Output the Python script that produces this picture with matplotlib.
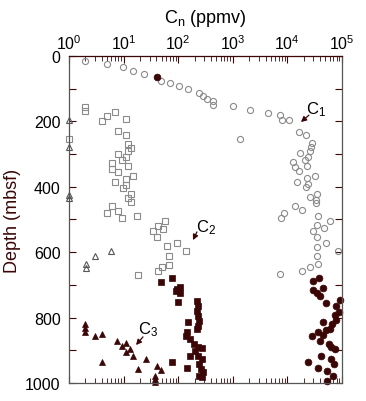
import matplotlib
matplotlib.use("Agg")
import matplotlib.pyplot as plt
from matplotlib.ticker import LogLocator, FixedLocator, NullFormatter, LogFormatterSciNotation

plt.rcParams['font.family'] = ['Liberation Sans', 'DejaVu Sans']
plt.rcParams['mathtext.fontset'] = 'custom'
plt.rcParams['mathtext.rm'] = 'Liberation Sans'
plt.rcParams['mathtext.it'] = 'Liberation Sans:italic'

# ---- data ----
c1_open_val = [1.96, 5.0, 9.8, 14.9, 23.6, 48, 71, 103, 151, 240, 285, 337, 434, 434, 1010, 2065,
               4415, 7325, 7950, 10700, 1350, 16300, 21900, 28200, 27000, 25900, 17000, 23800,
               21000, 12600, 13800, 16300, 22900, 15100, 22900, 31800, 23800, 21900, 25900, 34800,
               33800, 33800, 13800, 18600, 8650, 7600, 36300, 34800, 60300, 29500, 46800, 34800,
               51000, 34800, 84600, 34800, 36300, 25900, 18600, 7330]
c1_open_depth = [15, 24, 34, 46, 55, 76, 83, 92, 101, 113, 122, 131, 138, 150, 153, 165,
                 174, 180, 196, 196, 254, 232, 242, 266, 278, 290, 297, 309,
                 318, 324, 339, 352, 336, 385, 373, 367, 391, 401, 431, 422,
                 440, 450, 459, 471, 480, 495, 489, 517, 505, 535, 526, 553,
                 572, 584, 596, 612, 636, 645, 657, 667]

c1_fill_val = [41, 38000, 29500, 29500, 44700, 34800, 39600, 51000, 91900, 77600, 88100, 74500,
               77600, 65600, 44900, 50900, 60300, 36300, 28200, 44900, 39500, 57800, 63000,
               74500, 41200, 63000, 23800, 71300, 36300, 53100, 68400, 53100]
c1_fill_depth = [64, 679, 688, 716, 709, 725, 734, 755, 746, 765, 783, 792,
                 807, 820, 813, 838, 835, 844, 856, 853, 872, 881, 890,
                 896, 917, 927, 936, 942, 954, 963, 979, 994]

c2_open_val = [2.0, 2.0, 1.0, 4.0, 5.0, 7.0, 11.1, 7.9, 11.1, 12.0, 13.7, 12.0, 7.9, 11.1, 9.3,
               6.1, 6.1, 12.0, 7.9, 14.9, 11.1, 7.0, 11.1, 9.75, 13.7, 12.0, 13.7, 6.1, 5.0,
               7.9, 17.6, 9.3, 57, 34.5, 42.7, 52.7, 40.9, 62, 95, 139, 68, 68, 50, 42.7, 18.4]
c2_open_depth = [156, 168, 254, 199, 183, 171, 193, 229, 242, 269, 281, 290, 300, 309, 318,
                 327, 345, 336, 355, 367, 376, 385, 394, 404, 422, 434, 446, 459, 480,
                 474, 489, 495, 505, 535, 520, 529, 554, 581, 572, 596, 612, 639, 645, 657, 670]

c2_fill_val = [48, 77, 95, 108, 108, 93, 99, 221, 230, 221, 230, 240, 230, 221, 151, 139, 145,
               164, 195, 230, 273, 203, 164, 230, 273, 240, 262, 285, 240, 270, 77, 145]
c2_fill_depth = [691, 679, 713, 706, 725, 719, 752, 749, 765, 780, 795, 810, 826, 835, 813, 856, 844,
                 866, 881, 890, 893, 902, 917, 917, 927, 942, 957, 966, 979, 982, 936, 954]

c3_open_val = [1.0, 1.0, 1.0, 1.0, 3.0, 5.9, 2.05, 2.05]
c3_open_depth = [196, 278, 425, 434, 612, 596, 636, 648]

c3_fill_val = [2.0, 2.0, 2.0, 3.0, 4.0, 4.0, 7.6, 9.3, 11.1, 13.1, 11.1, 14.9, 18.4, 25.7,
               40.9, 48, 37.6, 37.6, 37.6]
c3_fill_depth = [820, 832, 844, 856, 850, 936, 872, 887, 878, 896, 905, 917, 957, 927,
                 948, 960, 979, 988, 997]

# annotation labels: (label, text position, arrow tail, arrow head)
ann_labels = ['C$_1$', 'C$_2$', 'C$_3$']
ann_text = [(33400, 160), (330, 521), (28, 833)]
ann_tail = [(24900, 181), (221, 538), (22.7, 859)]
ann_head = [(17800, 202), (187, 563), (16.9, 884)]

dark = '#3a0606'
grey = '#8a8a8a'

fig = plt.figure(figsize=(3.66, 4.02), dpi=100)
ax = fig.add_axes([0.1885, 0.0448, 0.7455, 0.8134])

ax.plot(c2_open_val, c2_open_depth, 's', ms=4.9, mfc='none', mec=grey, mew=0.8, clip_on=False)
ax.plot(c3_open_val, c3_open_depth, '^', ms=4.6, mfc='none', mec='#555555', mew=0.8, clip_on=False)
ax.plot(c1_open_val, c1_open_depth, 'o', ms=4.4, mfc='none', mec=grey, mew=0.8, clip_on=False)
ax.plot(c1_fill_val, c1_fill_depth, 'o', ms=4.9, mfc=dark, mec=dark, mew=0.5, clip_on=False)
ax.plot(c2_fill_val, c2_fill_depth, 's', ms=4.7, mfc=dark, mec=dark, mew=0.5, clip_on=False)
ax.plot(c3_fill_val, c3_fill_depth, '^', ms=4.9, mfc=dark, mec=dark, mew=0.5, clip_on=False)

ax.set_xscale('log')
ax.set_xlim(1, 1e5)
ax.set_ylim(1000, 0)

ax.xaxis.set_ticks_position('both')
ax.xaxis.set_label_position('top')
ax.tick_params(axis='x', which='both', labeltop=True, labelbottom=False, direction='in')
ax.xaxis.set_major_locator(LogLocator(base=10, numticks=10))
ax.xaxis.set_minor_locator(LogLocator(base=10, subs=range(2, 10), numticks=20))
ax.xaxis.set_major_formatter(LogFormatterSciNotation())
ax.xaxis.set_minor_formatter(NullFormatter())
ax.tick_params(axis='x', which='major', length=5, width=0.8, labelsize=11.5, pad=3, color=dark)
ax.tick_params(axis='x', which='minor', length=3.5, width=0.6, color=dark)

ax.yaxis.set_ticks_position('both')
ax.set_yticks([0, 200, 400, 600, 800, 1000])
ax.yaxis.set_minor_locator(FixedLocator([100, 300, 500, 700, 900]))
ax.tick_params(axis='y', which='both', direction='in', length=5, width=0.8, color=dark)
ax.tick_params(axis='y', which='major', labelsize=11.5, pad=6)

for s in ax.spines.values():
    s.set_color('#555555')
    s.set_linewidth(0.9)
ax.spines['top'].set_color(dark)

ax.set_xlabel('C$_\\mathrm{n}$ (ppmv)', fontsize=13, labelpad=8)
ax.set_ylabel('Depth (mbsf)', fontsize=13, color=dark, labelpad=3)

arrow = dict(arrowstyle='-|>', color=dark, lw=0.9, mutation_scale=8, shrinkA=0, shrinkB=0)
for lab, tpos, tail, head in zip(ann_labels, ann_text, ann_tail, ann_head):
    ax.text(tpos[0], tpos[1], lab, fontsize=12, ha='center', va='center')
    ax.annotate('', xy=head, xytext=tail, arrowprops=arrow)

fig.savefig('out.png', dpi=100)
